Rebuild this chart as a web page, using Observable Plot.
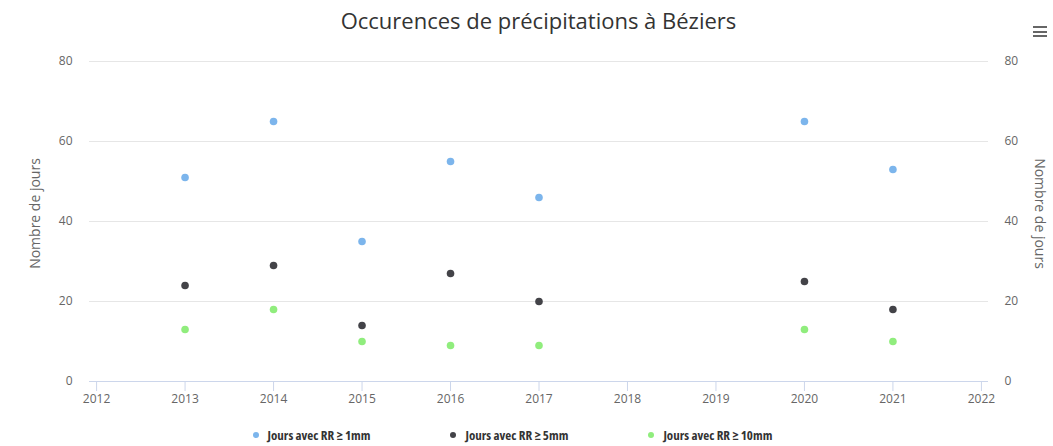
<!DOCTYPE html>
<html>
<head>
<meta charset="utf-8">
<script src="https://cdn.jsdelivr.net/npm/d3@7"></script>
<script src="https://cdn.jsdelivr.net/npm/@observablehq/plot@0.6"></script>
<style>
  html, body { margin: 0; padding: 0; background: #fff; }
  body { width: 1053px; height: 446px; position: relative; overflow: hidden;
         font-family: "Open Sans", sans-serif; }
  #title { position: absolute; top: 5px; left: 12px; width: 1053px; text-align: center;
           font-size: 22px; color: #333; font-stretch: 100%; }
  #menu { position: absolute; top: 26px; left: 1033px; width: 14px; }
  #menu div { height: 2px; background: #666; margin-bottom: 2.5px; }
  #chart { position: absolute; top: 45px; left: 0; }
  #legend { position: absolute; top: 426px; left: -14px; width: 1053px; display: flex;
            justify-content: center; gap: 80px; font-size: 13px; font-weight: bold; color: #333;
            font-stretch: 80%; }
  #legend span.item { display: inline-flex; align-items: center; }
  #legend span.dot { width: 6px; height: 6px; border-radius: 50%; display: inline-block; margin-right: 9px; }
</style>
</head>
<body>
<div id="title"></div>
<div id="menu"><div></div><div></div><div></div></div>
<div id="chart"></div>
<div id="legend"></div>
<script>
const titleText = "Occurences de précipitations à Béziers";
const yLabel = "Nombre de jours";
const years = [2013, 2014, 2015, 2016, 2017, 2020, 2021];
const seriesNames = ["Jours avec RR ≥ 1mm", "Jours avec RR ≥ 5mm", "Jours avec RR ≥ 10mm"];
const rr1 = [51, 65, 35, 55, 46, 65, 53];
const rr5 = [24, 29, 14, 27, 20, 25, 18];
const rr10 = [13, 18, 10, 9, 9, 13, 10];
const colors = ["#7cb5ec", "#434348", "#90ed7d"];
const xTicks = [2012, 2013, 2014, 2015, 2016, 2017, 2018, 2019, 2020, 2021, 2022];
const yTicks = [0, 20, 40, 60, 80];

const seriesValues = [rr1, rr5, rr10];
const data = [];
seriesValues.forEach((vals, i) => vals.forEach((v, j) => data.push({year: years[j], value: v, series: seriesNames[i]})));

document.getElementById("title").textContent = titleText;

const chart = Plot.plot({
  width: 1053,
  height: 370,
  marginLeft: 89,
  marginRight: 65,
  marginTop: 16,
  marginBottom: 34,
  style: {fontFamily: '"Open Sans", sans-serif', fontSize: "12px", color: "#666", background: "#fff", fontStretch: "95%"},
  x: {domain: [2011.92, 2022.08]},
  y: {domain: [0, 80]},
  color: {domain: seriesNames, range: colors},
  marks: [
    Plot.ruleY(yTicks.filter(d => d > 0), {stroke: "#e6e6e6", strokeWidth: 1}),
    Plot.ruleY([0], {stroke: "#ccd6eb", strokeWidth: 1}),
    Plot.axisX({ticks: xTicks, tickFormat: d => String(d), tickSize: 10, tickPadding: 3, stroke: "#ccd6eb", strokeOpacity: 1, label: null, fill: "#666", fontSize: 12}),
    Plot.axisY({anchor: "left", ticks: yTicks, tickSize: 0, tickPadding: 17, label: null, fill: "#666", fontSize: 12}),
    Plot.axisY({anchor: "right", ticks: yTicks, tickSize: 0, tickPadding: 16, label: null, fill: "#666", fontSize: 12}),
    Plot.text([yLabel], {frameAnchor: "left", textAnchor: "middle", rotate: -90, dx: -54, dy: -8, fill: "#666", fontSize: 14}),
    Plot.text([yLabel], {frameAnchor: "right", textAnchor: "middle", rotate: 90, dx: 51, dy: -8, fill: "#666", fontSize: 14}),
    Plot.dot(data, {x: "year", y: "value", fill: "series", r: 3.8})
  ]
});
document.getElementById("chart").appendChild(chart);

const legend = document.getElementById("legend");
seriesNames.forEach((name, i) => {
  const item = document.createElement("span");
  item.className = "item";
  const dot = document.createElement("span");
  dot.className = "dot";
  dot.style.background = colors[i];
  item.appendChild(dot);
  item.appendChild(document.createTextNode(name));
  legend.appendChild(item);
});
</script>
</body>
</html>
